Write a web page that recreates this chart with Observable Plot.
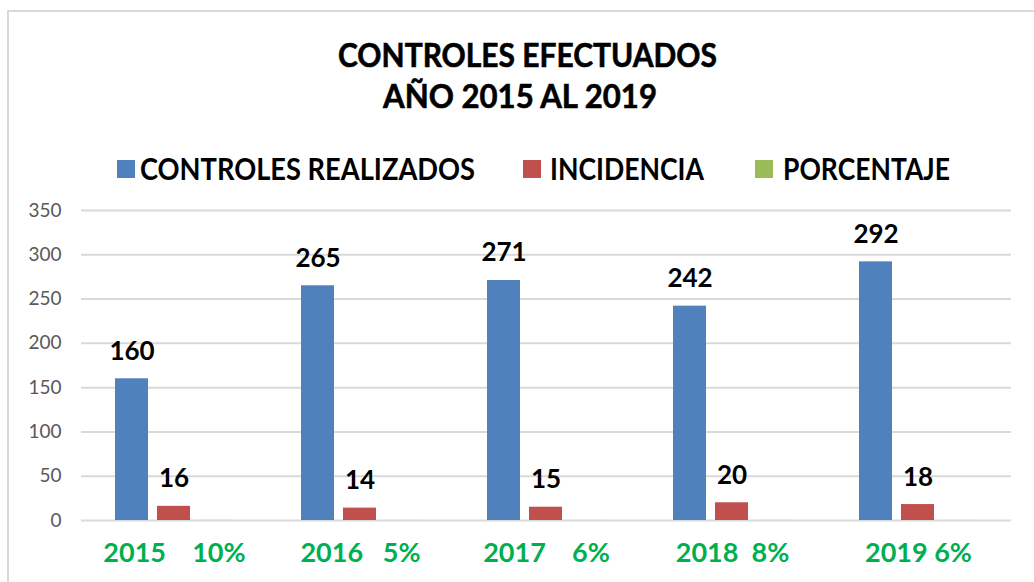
<!DOCTYPE html>
<html>
<head>
<meta charset="utf-8">
<script src="https://cdn.jsdelivr.net/npm/d3@7"></script>
<script src="https://cdn.jsdelivr.net/npm/@observablehq/plot@0.6"></script>
<style>
  html, body { margin: 0; padding: 0; background: #fff; width: 1034px; height: 582px; overflow: hidden; }
  #wrap { position: relative; width: 1034px; height: 582px; }
  #frame { position: absolute; left: 7px; top: 10px; width: 1100px; height: 700px;
           border-left: 2px solid #d9d9d9; border-top: 2px solid #d9d9d9; pointer-events: none; }
  #header { display: block; }
  #chart svg text { white-space: pre; }
</style>
</head>
<body>
<div id="wrap">
  <svg id="header" width="1034" height="190"></svg>
  <div id="chart"></div>
  <div id="frame"></div>
</div>
<script>
const years = ["2015", "2016", "2017", "2018", "2019"];
const controles = [160, 265, 271, 242, 292];
const incidencia = [16, 14, 15, 20, 18];
const porcentaje = [0.10, 0.05, 0.06, 0.08, 0.06];
const yearLabels = ["2015    10%", "2016   5%", "2017    6%", "2018  8%", "2019 6%"];
const seriesNames = ["CONTROLES REALIZADOS", "INCIDENCIA", "PORCENTAJE"];
const seriesColors = ["#4F81BD", "#C0504D", "#9BBB59"];
const yTicks = [0, 50, 100, 150, 200, 250, 300, 350];
const titleLines = ["CONTROLES EFECTUADOS", "AÑO 2015 AL 2019"];

const font = "Lato, 'Open Sans', sans-serif";

// Header: title + legend
const header = d3.select("#header");
const titleSpec = [
  {x: 527.5, y: 67, len: 379},
  {x: 520, y: 108, len: 274}
];
titleLines.forEach((t, i) => {
  header.append("text")
    .attr("x", titleSpec[i].x).attr("y", titleSpec[i].y)
    .attr("text-anchor", "middle")
    .attr("font-family", font).attr("font-weight", "bold").attr("font-size", 33)
    .attr("textLength", titleSpec[i].len).attr("lengthAdjust", "spacingAndGlyphs")
    .attr("fill", "#000").attr("stroke", "#000").attr("stroke-width", 0.6)
    .text(t);
});
const legendSpec = [
  {sx: 117, tx: 140, len: 335},
  {sx: 523, tx: 550, len: 154},
  {sx: 755, tx: 783, len: 167}
];
seriesNames.forEach((name, i) => {
  header.append("rect")
    .attr("x", legendSpec[i].sx).attr("y", 160).attr("width", 18).attr("height", 18)
    .attr("fill", seriesColors[i]);
  header.append("text")
    .attr("x", legendSpec[i].tx).attr("y", 180)
    .attr("font-family", font).attr("font-weight", "bold").attr("font-size", 30)
    .attr("textLength", legendSpec[i].len).attr("lengthAdjust", "spacingAndGlyphs")
    .attr("fill", "#000")
    .text(name);
});

// Data table
const data = [];
years.forEach((yr, i) => {
  data.push({year: yr, series: seriesNames[0], value: controles[i]});
  data.push({year: yr, series: seriesNames[1], value: incidencia[i]});
  data.push({year: yr, series: seriesNames[2], value: porcentaje[i]});
});
const labelled = data.filter(d => d.series !== seriesNames[2]);
const labelOf = Object.fromEntries(years.map((y, i) => [y, yearLabels[i]]));

const chart = Plot.plot({
  width: 1034,
  height: 392,
  marginLeft: 79,
  marginRight: 21,
  marginTop: 20,
  marginBottom: 62,
  style: {fontFamily: font, background: "transparent", overflow: "visible"},
  fx: {domain: years, padding: 0, axis: null},
  x: {domain: seriesNames, paddingInner: 0.214, paddingOuter: 0.82, axis: null},
  y: {domain: [0, 350], axis: null},
  color: {domain: seriesNames, range: seriesColors},
  marks: [
    Plot.ruleY(yTicks, {stroke: "#d9d9d9", strokeWidth: 2}),
    Plot.axisY({ticks: yTicks, tickSize: 0, tickPadding: 20, fontSize: 19, fill: "#595959", anchor: "left", label: null}),
    Plot.barY(data, {fx: "year", x: "series", y: "value", fill: "series"}),
    Plot.text(labelled, {fx: "year", x: "series", y: "value", text: d => String(d.value),
      lineAnchor: "bottom", dy: -19, fontSize: 26, fontWeight: "bold", fill: "#000"}),
    Plot.axisFx({anchor: "bottom", tickSize: 0, tickPadding: 22, fontSize: 27, fontWeight: "bold",
      fill: "#00B050", tickFormat: d => labelOf[d], label: null})
  ]
});
document.getElementById("chart").appendChild(chart);
</script>
</body>
</html>
